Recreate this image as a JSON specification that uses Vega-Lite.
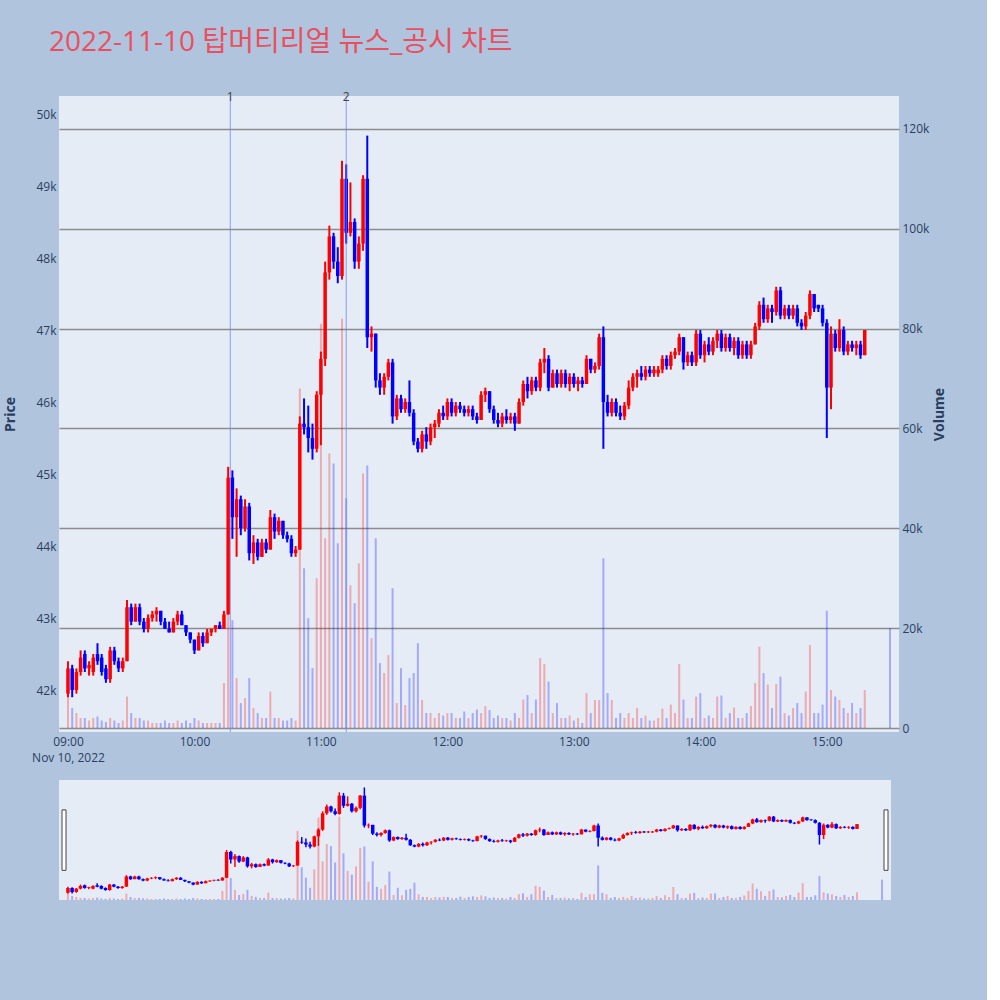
{
  "$schema": "https://vega.github.io/schema/vega-lite/v6.json",
  "background": "#B0C4DE",
  "padding": {"left": 3, "top": 29, "right": 40, "bottom": 110},
  "title": {
    "text": "2022-11-10 탑머티리얼 뉴스_공시 차트",
    "anchor": "start",
    "frame": "group",
    "dx": -10,
    "offset": 34,
    "font": "Open Sans, Noto Sans CJK KR",
    "fontSize": 28,
    "fontWeight": "normal",
    "color": "#E9505F"
  },
  "config": {
    "font": "Open Sans, Noto Sans CJK KR",
    "view": {"stroke": null, "fill": "#E5ECF6"},
    "axis": {
      "domain": false,
      "ticks": false,
      "labelColor": "#2a3f5f",
      "titleColor": "#2a3f5f",
      "labelFontSize": 12,
      "labelFont": "Open Sans",
      "titleFont": "Open Sans"
    }
  },
  "datasets": {
    "ohlc": [
      {"t":"2022-11-10T09:00","o":41950,"h":42400,"l":41900,"c":42300,"v":7000},
      {"t":"2022-11-10T09:02","o":42300,"h":42350,"l":41900,"c":42000,"v":4000},
      {"t":"2022-11-10T09:04","o":42000,"h":42300,"l":41950,"c":42250,"v":3000},
      {"t":"2022-11-10T09:06","o":42250,"h":42550,"l":42200,"c":42450,"v":2000},
      {"t":"2022-11-10T09:08","o":42500,"h":42550,"l":42250,"c":42300,"v":2000},
      {"t":"2022-11-10T09:10","o":42300,"h":42400,"l":42200,"c":42350,"v":1500},
      {"t":"2022-11-10T09:12","o":42250,"h":42500,"l":42200,"c":42450,"v":2000},
      {"t":"2022-11-10T09:14","o":42500,"h":42650,"l":42350,"c":42400,"v":2300},
      {"t":"2022-11-10T09:16","o":42450,"h":42500,"l":42200,"c":42250,"v":1500},
      {"t":"2022-11-10T09:18","o":42300,"h":42350,"l":42100,"c":42150,"v":1200},
      {"t":"2022-11-10T09:20","o":42150,"h":42600,"l":42100,"c":42550,"v":2000},
      {"t":"2022-11-10T09:22","o":42550,"h":42600,"l":42350,"c":42400,"v":1500},
      {"t":"2022-11-10T09:24","o":42400,"h":42450,"l":42250,"c":42300,"v":1000},
      {"t":"2022-11-10T09:26","o":42300,"h":42450,"l":42250,"c":42400,"v":1500},
      {"t":"2022-11-10T09:28","o":42400,"h":43250,"l":42400,"c":43150,"v":6300},
      {"t":"2022-11-10T09:30","o":43150,"h":43200,"l":42900,"c":42950,"v":3000},
      {"t":"2022-11-10T09:32","o":42950,"h":43200,"l":42950,"c":43150,"v":2000},
      {"t":"2022-11-10T09:34","o":43150,"h":43200,"l":42900,"c":42950,"v":2000},
      {"t":"2022-11-10T09:36","o":42950,"h":43000,"l":42800,"c":42850,"v":1500},
      {"t":"2022-11-10T09:38","o":42850,"h":43050,"l":42800,"c":43000,"v":1500},
      {"t":"2022-11-10T09:40","o":43000,"h":43100,"l":42950,"c":43050,"v":1000},
      {"t":"2022-11-10T09:42","o":43050,"h":43150,"l":42950,"c":43100,"v":1000},
      {"t":"2022-11-10T09:44","o":43100,"h":43100,"l":42900,"c":42950,"v":1000},
      {"t":"2022-11-10T09:46","o":42950,"h":43000,"l":42850,"c":42850,"v":1500},
      {"t":"2022-11-10T09:48","o":42850,"h":42950,"l":42800,"c":42800,"v":1000},
      {"t":"2022-11-10T09:50","o":42800,"h":43000,"l":42800,"c":42950,"v":1000},
      {"t":"2022-11-10T09:52","o":42950,"h":43100,"l":42900,"c":43050,"v":1500},
      {"t":"2022-11-10T09:54","o":43050,"h":43100,"l":42900,"c":42900,"v":1000},
      {"t":"2022-11-10T09:56","o":42900,"h":42900,"l":42750,"c":42800,"v":1500},
      {"t":"2022-11-10T09:58","o":42800,"h":42800,"l":42650,"c":42700,"v":1000},
      {"t":"2022-11-10T10:00","o":42700,"h":42700,"l":42500,"c":42550,"v":2000},
      {"t":"2022-11-10T10:02","o":42550,"h":42800,"l":42550,"c":42750,"v":1500},
      {"t":"2022-11-10T10:04","o":42750,"h":42800,"l":42600,"c":42650,"v":1000},
      {"t":"2022-11-10T10:06","o":42650,"h":42850,"l":42650,"c":42800,"v":1000},
      {"t":"2022-11-10T10:08","o":42800,"h":42850,"l":42750,"c":42850,"v":1000},
      {"t":"2022-11-10T10:10","o":42850,"h":42900,"l":42800,"c":42900,"v":1000},
      {"t":"2022-11-10T10:12","o":42900,"h":42950,"l":42850,"c":42850,"v":1000},
      {"t":"2022-11-10T10:14","o":42850,"h":43100,"l":42850,"c":43050,"v":9000},
      {"t":"2022-11-10T10:16","o":43050,"h":45100,"l":43050,"c":44950,"v":27000},
      {"t":"2022-11-10T10:18","o":44950,"h":45050,"l":44100,"c":44400,"v":21600},
      {"t":"2022-11-10T10:20","o":44400,"h":44800,"l":43850,"c":44650,"v":10000},
      {"t":"2022-11-10T10:22","o":44650,"h":44700,"l":44150,"c":44250,"v":5000},
      {"t":"2022-11-10T10:24","o":44250,"h":44650,"l":44200,"c":44550,"v":6000},
      {"t":"2022-11-10T10:26","o":44550,"h":44600,"l":43800,"c":43900,"v":10000},
      {"t":"2022-11-10T10:28","o":43900,"h":44150,"l":43750,"c":44050,"v":4000},
      {"t":"2022-11-10T10:30","o":44050,"h":44100,"l":43800,"c":43850,"v":3000},
      {"t":"2022-11-10T10:32","o":43850,"h":44100,"l":43850,"c":44050,"v":2000},
      {"t":"2022-11-10T10:34","o":44050,"h":44100,"l":43900,"c":43950,"v":2000},
      {"t":"2022-11-10T10:36","o":43950,"h":44500,"l":43950,"c":44400,"v":7300},
      {"t":"2022-11-10T10:38","o":44400,"h":44450,"l":44100,"c":44200,"v":2000},
      {"t":"2022-11-10T10:40","o":44200,"h":44400,"l":44150,"c":44350,"v":2000},
      {"t":"2022-11-10T10:42","o":44350,"h":44350,"l":44100,"c":44150,"v":1500},
      {"t":"2022-11-10T10:44","o":44150,"h":44200,"l":44050,"c":44100,"v":1500},
      {"t":"2022-11-10T10:46","o":44100,"h":44150,"l":43850,"c":43900,"v":2000},
      {"t":"2022-11-10T10:48","o":43900,"h":44000,"l":43850,"c":43950,"v":1500},
      {"t":"2022-11-10T10:50","o":43950,"h":45800,"l":43950,"c":45700,"v":68000},
      {"t":"2022-11-10T10:52","o":45700,"h":46050,"l":45550,"c":45650,"v":32000},
      {"t":"2022-11-10T10:54","o":45650,"h":45950,"l":45300,"c":45500,"v":22000},
      {"t":"2022-11-10T10:56","o":45500,"h":45700,"l":45200,"c":45350,"v":12000},
      {"t":"2022-11-10T10:58","o":45350,"h":46150,"l":45300,"c":46100,"v":30000},
      {"t":"2022-11-10T11:00","o":46100,"h":46700,"l":45400,"c":46600,"v":81000},
      {"t":"2022-11-10T11:02","o":46600,"h":47950,"l":46500,"c":47800,"v":38000},
      {"t":"2022-11-10T11:04","o":47800,"h":48450,"l":47700,"c":48300,"v":55000},
      {"t":"2022-11-10T11:06","o":48300,"h":48350,"l":47850,"c":47950,"v":53000},
      {"t":"2022-11-10T11:08","o":47950,"h":48150,"l":47650,"c":47750,"v":37000},
      {"t":"2022-11-10T11:10","o":47750,"h":49350,"l":47700,"c":49100,"v":82000},
      {"t":"2022-11-10T11:12","o":49100,"h":49300,"l":48200,"c":48350,"v":46000},
      {"t":"2022-11-10T11:14","o":48350,"h":49050,"l":48300,"c":48500,"v":28600},
      {"t":"2022-11-10T11:16","o":48500,"h":48550,"l":47850,"c":47950,"v":25000},
      {"t":"2022-11-10T11:18","o":47950,"h":48300,"l":47850,"c":48200,"v":33000},
      {"t":"2022-11-10T11:20","o":48200,"h":49150,"l":48100,"c":49100,"v":51000},
      {"t":"2022-11-10T11:22","o":49100,"h":49700,"l":46750,"c":46900,"v":52600},
      {"t":"2022-11-10T11:24","o":46900,"h":47050,"l":46700,"c":46950,"v":18000},
      {"t":"2022-11-10T11:26","o":46950,"h":46950,"l":46200,"c":46300,"v":38000},
      {"t":"2022-11-10T11:28","o":46300,"h":46400,"l":46100,"c":46200,"v":13000},
      {"t":"2022-11-10T11:30","o":46200,"h":46400,"l":46100,"c":46350,"v":11000},
      {"t":"2022-11-10T11:32","o":46350,"h":46600,"l":46300,"c":46550,"v":14600},
      {"t":"2022-11-10T11:34","o":46550,"h":46600,"l":45700,"c":45800,"v":28000},
      {"t":"2022-11-10T11:36","o":45800,"h":46100,"l":45750,"c":46050,"v":5000},
      {"t":"2022-11-10T11:38","o":46050,"h":46100,"l":45850,"c":45900,"v":12000},
      {"t":"2022-11-10T11:40","o":45900,"h":46050,"l":45850,"c":46000,"v":4600},
      {"t":"2022-11-10T11:42","o":46000,"h":46300,"l":45800,"c":45850,"v":10000},
      {"t":"2022-11-10T11:44","o":45850,"h":45900,"l":45400,"c":45450,"v":11000},
      {"t":"2022-11-10T11:46","o":45450,"h":45500,"l":45300,"c":45350,"v":17000},
      {"t":"2022-11-10T11:48","o":45350,"h":45600,"l":45300,"c":45550,"v":5600},
      {"t":"2022-11-10T11:50","o":45550,"h":45650,"l":45350,"c":45450,"v":3000},
      {"t":"2022-11-10T11:52","o":45450,"h":45700,"l":45400,"c":45650,"v":3000},
      {"t":"2022-11-10T11:54","o":45650,"h":45750,"l":45500,"c":45700,"v":2000},
      {"t":"2022-11-10T11:56","o":45700,"h":45900,"l":45650,"c":45850,"v":3000},
      {"t":"2022-11-10T11:58","o":45850,"h":45950,"l":45750,"c":45800,"v":2500},
      {"t":"2022-11-10T12:00","o":45800,"h":46050,"l":45750,"c":46000,"v":3000},
      {"t":"2022-11-10T12:02","o":46000,"h":46050,"l":45800,"c":45850,"v":3000},
      {"t":"2022-11-10T12:04","o":45850,"h":46000,"l":45800,"c":45950,"v":2000},
      {"t":"2022-11-10T12:06","o":45950,"h":46000,"l":45850,"c":45900,"v":2000},
      {"t":"2022-11-10T12:08","o":45900,"h":45950,"l":45800,"c":45850,"v":3300},
      {"t":"2022-11-10T12:10","o":45850,"h":45950,"l":45800,"c":45900,"v":2000},
      {"t":"2022-11-10T12:12","o":45900,"h":45950,"l":45750,"c":45800,"v":3000},
      {"t":"2022-11-10T12:14","o":45800,"h":45850,"l":45700,"c":45750,"v":3700},
      {"t":"2022-11-10T12:16","o":45750,"h":46150,"l":45750,"c":46100,"v":3000},
      {"t":"2022-11-10T12:18","o":46100,"h":46200,"l":46000,"c":46150,"v":4400},
      {"t":"2022-11-10T12:20","o":46150,"h":46150,"l":45850,"c":45900,"v":3600},
      {"t":"2022-11-10T12:22","o":45900,"h":45950,"l":45700,"c":45750,"v":2000},
      {"t":"2022-11-10T12:24","o":45750,"h":45850,"l":45650,"c":45700,"v":2500},
      {"t":"2022-11-10T12:26","o":45700,"h":45850,"l":45650,"c":45800,"v":2000},
      {"t":"2022-11-10T12:28","o":45800,"h":45900,"l":45700,"c":45750,"v":2000},
      {"t":"2022-11-10T12:30","o":45750,"h":45850,"l":45700,"c":45800,"v":1500},
      {"t":"2022-11-10T12:32","o":45800,"h":45850,"l":45600,"c":45700,"v":3000},
      {"t":"2022-11-10T12:34","o":45700,"h":46050,"l":45700,"c":46000,"v":2000},
      {"t":"2022-11-10T12:36","o":46000,"h":46300,"l":45950,"c":46250,"v":5700},
      {"t":"2022-11-10T12:38","o":46250,"h":46350,"l":46050,"c":46150,"v":6600},
      {"t":"2022-11-10T12:40","o":46150,"h":46350,"l":46100,"c":46300,"v":3000},
      {"t":"2022-11-10T12:42","o":46300,"h":46350,"l":46150,"c":46200,"v":5700},
      {"t":"2022-11-10T12:44","o":46200,"h":46600,"l":46150,"c":46550,"v":14000},
      {"t":"2022-11-10T12:46","o":46550,"h":46750,"l":46400,"c":46600,"v":12800},
      {"t":"2022-11-10T12:48","o":46600,"h":46650,"l":46150,"c":46200,"v":9300},
      {"t":"2022-11-10T12:50","o":46200,"h":46450,"l":46200,"c":46400,"v":3000},
      {"t":"2022-11-10T12:52","o":46400,"h":46450,"l":46200,"c":46250,"v":5000},
      {"t":"2022-11-10T12:54","o":46250,"h":46450,"l":46200,"c":46400,"v":2000},
      {"t":"2022-11-10T12:56","o":46400,"h":46450,"l":46200,"c":46250,"v":2000},
      {"t":"2022-11-10T12:58","o":46250,"h":46400,"l":46150,"c":46350,"v":2500},
      {"t":"2022-11-10T13:00","o":46350,"h":46400,"l":46200,"c":46250,"v":1500},
      {"t":"2022-11-10T13:02","o":46250,"h":46350,"l":46150,"c":46300,"v":2000},
      {"t":"2022-11-10T13:04","o":46300,"h":46350,"l":46200,"c":46250,"v":1000},
      {"t":"2022-11-10T13:06","o":46250,"h":46650,"l":46250,"c":46600,"v":7000},
      {"t":"2022-11-10T13:08","o":46600,"h":46600,"l":46400,"c":46450,"v":3000},
      {"t":"2022-11-10T13:10","o":46450,"h":46550,"l":46400,"c":46500,"v":5600},
      {"t":"2022-11-10T13:12","o":46500,"h":46950,"l":46450,"c":46900,"v":5600},
      {"t":"2022-11-10T13:14","o":46900,"h":47050,"l":45350,"c":46000,"v":34000},
      {"t":"2022-11-10T13:16","o":46000,"h":46100,"l":45800,"c":45850,"v":7000},
      {"t":"2022-11-10T13:18","o":45850,"h":46050,"l":45800,"c":46000,"v":5600},
      {"t":"2022-11-10T13:20","o":46000,"h":46050,"l":45800,"c":45850,"v":2000},
      {"t":"2022-11-10T13:22","o":45850,"h":45950,"l":45750,"c":45800,"v":3000},
      {"t":"2022-11-10T13:24","o":45800,"h":46000,"l":45750,"c":45950,"v":2000},
      {"t":"2022-11-10T13:26","o":45950,"h":46300,"l":45900,"c":46200,"v":3000},
      {"t":"2022-11-10T13:28","o":46200,"h":46400,"l":46150,"c":46350,"v":2000},
      {"t":"2022-11-10T13:30","o":46350,"h":46450,"l":46200,"c":46400,"v":4000},
      {"t":"2022-11-10T13:32","o":46400,"h":46500,"l":46300,"c":46350,"v":2000},
      {"t":"2022-11-10T13:34","o":46350,"h":46500,"l":46300,"c":46450,"v":2500},
      {"t":"2022-11-10T13:36","o":46450,"h":46500,"l":46350,"c":46400,"v":1500},
      {"t":"2022-11-10T13:38","o":46400,"h":46500,"l":46350,"c":46450,"v":1500},
      {"t":"2022-11-10T13:40","o":46400,"h":46500,"l":46350,"c":46450,"v":2000},
      {"t":"2022-11-10T13:42","o":46450,"h":46650,"l":46400,"c":46600,"v":3900},
      {"t":"2022-11-10T13:44","o":46600,"h":46650,"l":46450,"c":46500,"v":2000},
      {"t":"2022-11-10T13:46","o":46500,"h":46700,"l":46450,"c":46650,"v":4700},
      {"t":"2022-11-10T13:48","o":46650,"h":46750,"l":46600,"c":46700,"v":3000},
      {"t":"2022-11-10T13:50","o":46700,"h":46950,"l":46650,"c":46900,"v":12800},
      {"t":"2022-11-10T13:52","o":46900,"h":46900,"l":46450,"c":46550,"v":5700},
      {"t":"2022-11-10T13:54","o":46550,"h":46700,"l":46500,"c":46650,"v":2000},
      {"t":"2022-11-10T13:56","o":46650,"h":46700,"l":46500,"c":46550,"v":2000},
      {"t":"2022-11-10T13:58","o":46550,"h":47000,"l":46500,"c":46950,"v":6300},
      {"t":"2022-11-10T14:00","o":46950,"h":47000,"l":46600,"c":46650,"v":7000},
      {"t":"2022-11-10T14:02","o":46650,"h":46850,"l":46550,"c":46800,"v":2000},
      {"t":"2022-11-10T14:04","o":46800,"h":46900,"l":46650,"c":46700,"v":2500},
      {"t":"2022-11-10T14:06","o":46700,"h":46900,"l":46650,"c":46850,"v":2000},
      {"t":"2022-11-10T14:08","o":46850,"h":47000,"l":46750,"c":46950,"v":6300},
      {"t":"2022-11-10T14:10","o":46950,"h":47000,"l":46700,"c":46750,"v":6500},
      {"t":"2022-11-10T14:12","o":46750,"h":46950,"l":46700,"c":46900,"v":2000},
      {"t":"2022-11-10T14:14","o":46900,"h":46950,"l":46700,"c":46750,"v":3000},
      {"t":"2022-11-10T14:16","o":46750,"h":46900,"l":46650,"c":46850,"v":4100},
      {"t":"2022-11-10T14:18","o":46850,"h":46900,"l":46600,"c":46650,"v":2000},
      {"t":"2022-11-10T14:20","o":46650,"h":46850,"l":46600,"c":46800,"v":2000},
      {"t":"2022-11-10T14:22","o":46800,"h":46850,"l":46600,"c":46650,"v":3000},
      {"t":"2022-11-10T14:24","o":46650,"h":46850,"l":46600,"c":46800,"v":4400},
      {"t":"2022-11-10T14:26","o":46800,"h":47100,"l":46800,"c":47050,"v":9000},
      {"t":"2022-11-10T14:28","o":47050,"h":47400,"l":47000,"c":47350,"v":16300},
      {"t":"2022-11-10T14:30","o":47350,"h":47450,"l":47100,"c":47150,"v":11000},
      {"t":"2022-11-10T14:32","o":47150,"h":47350,"l":47100,"c":47300,"v":8700},
      {"t":"2022-11-10T14:34","o":47300,"h":47350,"l":47100,"c":47250,"v":4000},
      {"t":"2022-11-10T14:36","o":47250,"h":47600,"l":47200,"c":47550,"v":8800},
      {"t":"2022-11-10T14:38","o":47550,"h":47600,"l":47150,"c":47200,"v":10300},
      {"t":"2022-11-10T14:40","o":47200,"h":47350,"l":47150,"c":47300,"v":3000},
      {"t":"2022-11-10T14:42","o":47300,"h":47350,"l":47150,"c":47200,"v":2500},
      {"t":"2022-11-10T14:44","o":47200,"h":47350,"l":47150,"c":47300,"v":4000},
      {"t":"2022-11-10T14:46","o":47300,"h":47350,"l":47050,"c":47100,"v":5000},
      {"t":"2022-11-10T14:48","o":47100,"h":47150,"l":47000,"c":47050,"v":3000},
      {"t":"2022-11-10T14:50","o":47050,"h":47250,"l":47000,"c":47200,"v":7300},
      {"t":"2022-11-10T14:52","o":47200,"h":47550,"l":47150,"c":47500,"v":16600},
      {"t":"2022-11-10T14:54","o":47500,"h":47500,"l":47250,"c":47300,"v":3000},
      {"t":"2022-11-10T14:56","o":47350,"h":47350,"l":47250,"c":47300,"v":3000},
      {"t":"2022-11-10T14:58","o":47300,"h":47350,"l":47050,"c":47100,"v":4700},
      {"t":"2022-11-10T15:00","o":47100,"h":47150,"l":45500,"c":46200,"v":23500},
      {"t":"2022-11-10T15:02","o":46200,"h":47050,"l":45900,"c":46950,"v":7600},
      {"t":"2022-11-10T15:04","o":46950,"h":47000,"l":46700,"c":46750,"v":6300},
      {"t":"2022-11-10T15:06","o":46750,"h":47150,"l":46700,"c":47000,"v":5600},
      {"t":"2022-11-10T15:08","o":47000,"h":47050,"l":46650,"c":46700,"v":4000},
      {"t":"2022-11-10T15:10","o":46700,"h":46850,"l":46650,"c":46800,"v":3000},
      {"t":"2022-11-10T15:12","o":46800,"h":46850,"l":46700,"c":46750,"v":5000},
      {"t":"2022-11-10T15:14","o":46750,"h":46850,"l":46650,"c":46800,"v":3000},
      {"t":"2022-11-10T15:16","o":46800,"h":46850,"l":46600,"c":46650,"v":4000},
      {"t":"2022-11-10T15:18","o":46650,"h":47000,"l":46650,"c":47000,"v":7600},
      {"t":"2022-11-10T15:30","o":47000,"h":47000,"l":47000,"c":47000,"v":20000}
    ],
    "events": [
      {"t":"2022-11-10T10:17","n":"1"},
      {"t":"2022-11-10T11:12","n":"2"}
    ],
    "handles": [
      {"t":"2022-11-10T08:58:07","lo":43600,"hi":48050},
      {"t":"2022-11-10T15:31:53","lo":43600,"hi":48050}
    ]
  },
  "bounds": "flush",
  "spacing": 48,
  "resolve": {"scale": {"x": "independent", "y": "independent"}},
  "vconcat": [
    {
      "width": 840,
      "height": 636,
      "encoding": {
        "x": {
          "field": "t",
          "type": "temporal",
          "title": null,
          "scale": {"domain": [
            {"year": 2022, "month": 11, "date": 10, "hours": 8, "minutes": 58, "seconds": 7},
            {"year": 2022, "month": 11, "date": 10, "hours": 15, "minutes": 31, "seconds": 53}
          ]},
          "axis": {
            "grid": false,
            "labelPadding": 4,
            "labelLineHeight": 16,
            "values": [
              {"year": 2022, "month": 11, "date": 10, "hours": 9},
              {"year": 2022, "month": 11, "date": 10, "hours": 10},
              {"year": 2022, "month": 11, "date": 10, "hours": 11},
              {"year": 2022, "month": 11, "date": 10, "hours": 12},
              {"year": 2022, "month": 11, "date": 10, "hours": 13},
              {"year": 2022, "month": 11, "date": 10, "hours": 14},
              {"year": 2022, "month": 11, "date": 10, "hours": 15}
            ],
            "labelExpr": "hours(datum.value) == 9 ? ['09:00', 'Nov 10, 2022'] : timeFormat(datum.value, '%H:%M')"
          }
        }
      },
      "layer": [
        {
          "data": {"name": "ohlc"},
          "mark": {"type": "bar", "size": 2, "opacity": 0.28},
          "encoding": {
            "y": {
              "field": "v",
              "type": "quantitative",
              "title": "Volume",
              "scale": {"domain": [-800, 126600], "nice": false, "zero": false},
              "axis": {
                "orient": "right",
                "values": [0, 20000, 40000, 60000, 80000, 100000, 120000],
                "labelExpr": "datum.value == 0 ? '0' : format(datum.value / 1000, 'd') + 'k'",
                "gridColor": "#8c8c8c",
                "gridWidth": 1.3,
                "labelPadding": 3,
                "titleFontSize": 14,
                "titleFontWeight": "bold",
                "titleAngle": 270,
                "titlePadding": 18
              }
            },
            "color": {"condition": {"test": "datum.c > datum.o", "value": "#FF0000"}, "value": "#0000FF"}
          }
        },
        {
          "layer": [
            {
              "data": {"name": "ohlc"},
              "mark": {"type": "rule", "strokeWidth": 2},
              "encoding": {
                "y": {
                  "field": "l",
                  "type": "quantitative",
                  "title": "Price",
                  "scale": {"domain": [41417, 50250], "nice": false, "zero": false},
                  "axis": {
                    "orient": "left",
                    "values": [42000, 43000, 44000, 45000, 46000, 47000, 48000, 49000, 50000],
                    "format": "~s",
                    "gridColor": "#FFFFFF",
                    "gridWidth": 1,
                    "labelPadding": 3,
                    "titleFontSize": 14,
                    "titleFontWeight": "bold",
                    "titlePadding": 18
                  }
                },
                "y2": {"field": "h"},
                "color": {"condition": {"test": "datum.c > datum.o", "value": "#FF0000"}, "value": "#0000FF"}
              }
            },
            {
              "data": {"name": "ohlc"},
              "mark": {"type": "bar", "size": 3.5},
              "encoding": {
                "y": {"field": "o", "type": "quantitative", "title": "Price"},
                "y2": {"field": "c"},
                "color": {"condition": {"test": "datum.c > datum.o", "value": "#FF0000"}, "value": "#0000FF"}
              }
            },
            {
              "data": {"name": "events"},
              "mark": {"type": "rule", "color": "#7086F0", "strokeWidth": 1, "opacity": 0.8},
              "encoding": {}
            },
            {
              "data": {"name": "events"},
              "mark": {"type": "text", "color": "#444444", "fontSize": 12, "baseline": "middle", "dy": 1},
              "encoding": {
                "y": {"datum": 50250, "type": "quantitative", "title": "Price"},
                "text": {"field": "n"}
              }
            }
          ]
        }
      ],
      "resolve": {"scale": {"y": "independent"}}
    },
    {
      "width": 832,
      "height": 120,
      "encoding": {
        "x": {
          "field": "t",
          "type": "temporal",
          "title": null,
          "axis": null,
          "scale": {"domain": [
            {"year": 2022, "month": 11, "date": 10, "hours": 8, "minutes": 58, "seconds": 7},
            {"year": 2022, "month": 11, "date": 10, "hours": 15, "minutes": 31, "seconds": 53}
          ]}
        }
      },
      "layer": [
        {
          "data": {"name": "ohlc"},
          "mark": {"type": "bar", "size": 2, "opacity": 0.28},
          "encoding": {
            "y": {"field": "v", "type": "quantitative", "axis": null, "scale": {"domain": [0, 118000], "nice": false}},
            "color": {"condition": {"test": "datum.c > datum.o", "value": "#FF0000"}, "value": "#0000FF"}
          }
        },
        {
          "layer": [
            {
              "data": {"name": "ohlc"},
              "mark": {"type": "rule", "strokeWidth": 1.5},
              "encoding": {
                "y": {"field": "l", "type": "quantitative", "axis": null, "scale": {"domain": [41417, 50250], "nice": false, "zero": false}},
                "y2": {"field": "h"},
                "color": {"condition": {"test": "datum.c > datum.o", "value": "#FF0000"}, "value": "#0000FF"}
              }
            },
            {
              "data": {"name": "ohlc"},
              "mark": {"type": "bar", "size": 3.5},
              "encoding": {
                "y": {"field": "o", "type": "quantitative", "axis": null},
                "y2": {"field": "c"},
                "color": {"condition": {"test": "datum.c > datum.o", "value": "#FF0000"}, "value": "#0000FF"}
              }
            },
            {
              "data": {"name": "handles"},
              "mark": {"type": "bar", "size": 4, "fill": "#FFFFFF", "stroke": "#444444", "strokeWidth": 1, "clip": false},
              "encoding": {
                "y": {"field": "lo", "type": "quantitative", "axis": null},
                "y2": {"field": "hi"}
              }
            }
          ]
        }
      ],
      "resolve": {"scale": {"y": "independent"}}
    }
  ]
}
